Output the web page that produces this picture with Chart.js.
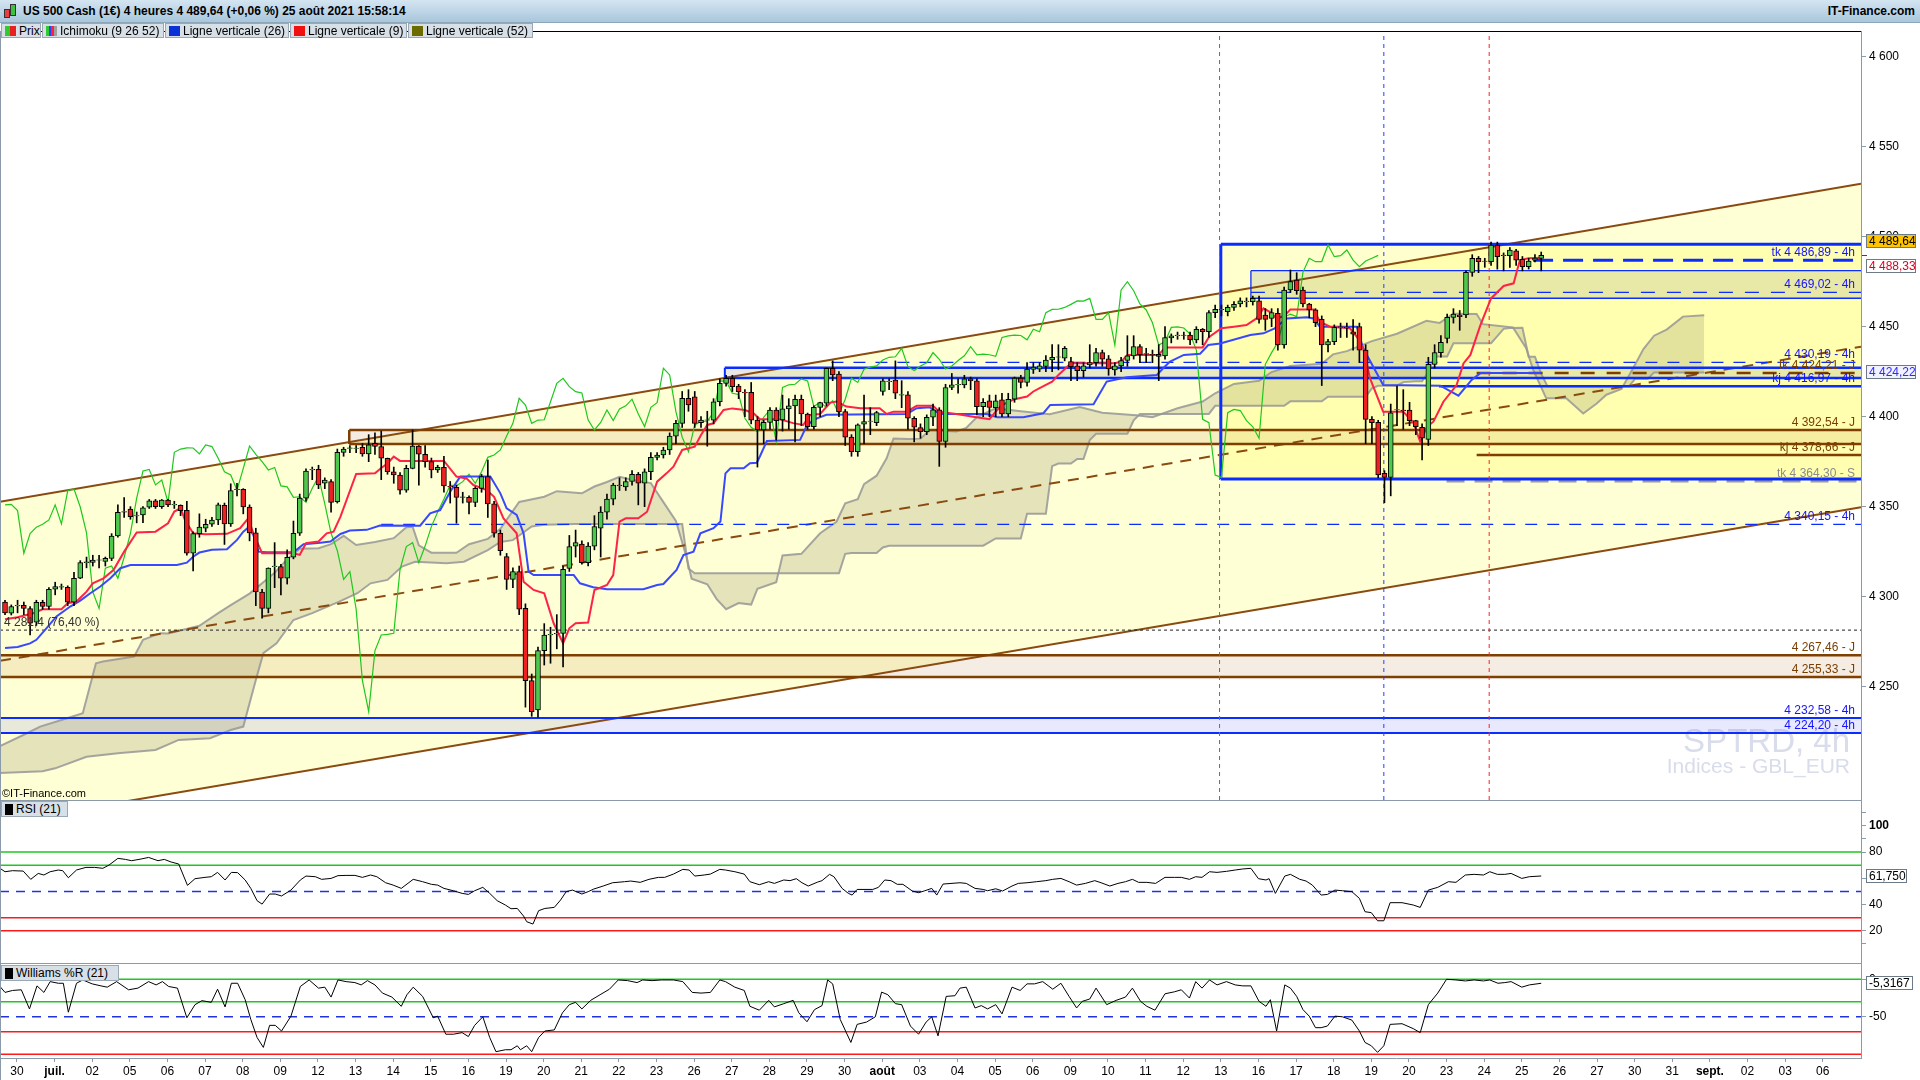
<!DOCTYPE html>
<html>
<head>
<meta charset="utf-8">
<script src="https://cdn.jsdelivr.net/npm/chart.js@4.4.1/dist/chart.umd.min.js"></script>
<style>
  body { margin: 0; width: 1920px; height: 1080px; overflow: hidden; background: #fff; font-family: "Liberation Sans", Arial, sans-serif; }
  canvas { position: absolute; left: 0; }
  #title { position: absolute; left: 0; top: 0; width: 1920px; height: 22px; background: linear-gradient(#d4e5f2, #a8c6dc); border-bottom: 1px solid #8ea6ba; z-index: 5; }
  #title .t { position: absolute; left: 23px; top: 4px; font-size: 12px; font-weight: bold; color: #000; }
  #title .r { position: absolute; right: 5px; top: 4px; font-size: 12px; font-weight: bold; color: #000; }
  .ico { position: absolute; width: 4px; border: 1px solid #333; }
  .lg { position: absolute; top: 23px; height: 15px; background: #d7dfe7; border: 1px solid #9aa8b5; font-size: 12px; line-height: 15px; color: #000; z-index: 5; box-sizing: border-box; padding-left: 17px; white-space: nowrap; }
  .lg i { position: absolute; left: 3px; top: 2px; width: 11px; height: 10px; }
  .sep { position: absolute; left: 0; height: 1px; background: #8a9aaa; z-index: 4; }
  .pl { position: absolute; left: 1px; height: 16px; background: #d7dfe7; border: 1px solid #9aa8b5; font-size: 12px; line-height: 15px; padding-left: 14px; padding-right: 3px; z-index: 5; box-sizing: border-box; }
  .pl i { position: absolute; left: 3px; top: 2px; width: 8px; height: 11px; background: #000; }
</style>
</head>
<body>
<div id="title">
  <div class="ico" style="left:4px;top:9px;height:7px;background:#e84040"></div>
  <div class="ico" style="left:10px;top:4px;height:10px;background:#40c040"></div>
  <div class="t">US 500 Cash (1€) 4 heures 4 489,64 (+0,06 %) 25 août 2021 15:58:14</div>
  <div class="r">IT-Finance.com</div>
</div>
<div class="sep" style="top:31px;width:1861px;background:#000"></div>
<div class="lg" style="left:1px;width:40px"><i style="background:linear-gradient(90deg,#2ecc2e 50%,#e82020 50%)"></i>Prix</div>
<div class="lg" style="left:42px;width:122px"><i style="background:linear-gradient(90deg,#2ecc2e 25%,#3040ff 25%,#3040ff 50%,#ff2040 50%,#ff2040 75%,#a0a0a0 75%)"></i>Ichimoku (9 26 52)</div>
<div class="lg" style="left:165px;width:124px"><i style="background:#0a30d8"></i>Ligne verticale (26)</div>
<div class="lg" style="left:290px;width:117px"><i style="background:#f01010"></i>Ligne verticale (9)</div>
<div class="lg" style="left:408px;width:125px"><i style="background:#6b6b00"></i>Ligne verticale (52)</div>
<div class="sep" style="top:0;left:0;width:1px;height:1058px;top:31px"></div>

<canvas id="main" width="1920" height="769" style="top:31px"></canvas>
<div class="sep" style="top:800px;width:1861px"></div>
<canvas id="rsi" width="1920" height="163" style="top:800px"></canvas>
<div class="pl" style="top:801px;width:67px"><i></i>RSI (21)</div>
<div class="sep" style="top:963px;width:1861px"></div>
<canvas id="will" width="1920" height="117" style="top:963px"></canvas>
<div class="pl" style="top:965px;width:118px"><i></i>Williams %R (21)</div>

<script>
// ---------- data ----------
// x is the 4-hour bar number (6 bars per trading day, bar 0 = 30 juin first bar)
const X_MIN = -0.8, X_MAX = 296;

const dayLabels = ['30','juil.','02','05','06','07','08','09','12','13','14','15','16','19','20','21','22','23','26','27','28','29','30','août','03','04','05','06','09','10','11','12','13','16','17','18','19','20','23','24','25','26','27','30','31','sept.','02','03','06'];
const monthLabels = ['juil.', 'août', 'sept.'];

const candleOpen = [4297,4290.8,4294.8,4295.2,4293.4,4285.8,4296.9,4294.5,4304.1,4305.2,
4305.2,4296.9,4310.2,4318.9,4319,4320.2,4319.5,4321.3,4333.7,4347,
4348.7,4344.8,4345.4,4349.7,4353.2,4350,4353.7,4351,4350.8,4348,
4324.1,4335,4338,4340.2,4342.6,4350.8,4340.4,4359.5,4359.6,4349.8,
4335.4,4302.6,4293.4,4316.7,4316.7,4310.2,4321.9,4335.2,4354.7,4370.4,
4370.8,4363,4363.9,4352.8,4380.2,4382.4,4382.4,4383,4379.3,4385.2,
4383.4,4376.8,4369.4,4367.6,4359.2,4371.3,4383.7,4379.1,4375,4370.4,
4371.8,4361.3,4360.7,4355.2,4355.2,4352.4,4360.2,4366.7,4351.5,4335.2,
4322.2,4309.6,4313.9,4293.5,4253.3,4237,4270,4278.7,4279.3,4279.6,
4315.7,4328,4329.2,4318.9,4328.1,4338,4347,4354.2,4362,4361,
4364,4368,4363,4369.4,4377.4,4378.7,4381.5,4389.2,4396.3,4410.2,
4411,4396.6,4398,4398,4408.3,4418.5,4421.3,4417,4413.5,4413.5,
4398.1,4392.6,4396.8,4403.7,4398.2,4404.3,4406,4409.7,4401.4,4394.5,
4405.2,4407.5,4426.9,4423.6,4402.8,4388.6,4380.6,4395.9,4397.3,4396.7,
4414,4419.5,4420.4,4412,4412.1,4399.1,4394,4391.7,4399.7,4403.8,
4386.2,4416.2,4417.7,4417.7,4421,4419.9,4405.6,4408.8,4405,4409.3,
4401.5,4409.7,4421.4,4419,4426.3,4426.4,4427.9,4431.5,4433,4432.5,
4430.6,4428.2,4425.6,4428.8,4430,4435.6,4432.1,4426,4428.2,4431.2,
4433.8,4438.9,4435,4434.7,4434.6,4433.7,4443.7,4445,4445.4,4445.4,
4442.7,4448.5,4447.2,4457.8,4459.4,4458.3,4460.7,4462.6,4463.9,4463.9,
4464.3,4456.5,4454.6,4457.4,4439.8,4470.4,4475.9,4470.4,4462.6,4459.3,
4454.1,4439.8,4441.7,4449.6,4449.6,4447.2,4450,4437,4398.5,4396.8,
4368.5,4366.3,4403.7,4403.7,4403.7,4397.8,4394.1,4387.4,4429.1,4435.6,
4443.5,4455.2,4456.5,4456.5,4480.2,4488,4486.5,4486.1,4495.4,4489.8,
4489.4,4492.2,4487.4,4483.3,4487,4488];

const candleHigh = [4298,4295.4,4298,4297,4294.5,4298,4298,4305,4308,4307,
4306,4313.5,4320,4322,4323,4323,4322,4335,4351,4355,
4350,4347,4350,4354,4354,4354,4354,4353,4351,4353,
4336,4346,4343,4344,4352,4352,4362.7,4363,4360,4351,
4338,4304,4316,4330,4318,4326,4342,4357,4371,4372,
4373,4366,4365,4382,4383,4384,4384,4385,4390,4391,
4392,4377,4372,4369,4373,4392.6,4384,4384,4377,4373,
4378,4364,4362,4358,4356,4361,4368,4375.9,4353,4337,
4324,4316,4317,4296,4257,4272,4285,4283,4290,4317,
4334,4337,4331,4330,4345,4350,4357,4363,4366,4366,
4370,4369,4371,4380,4380,4383,4391,4398,4414,4415,
4414,4400,4403,4410,4421,4423,4423,4418,4415,4419,
4400,4398,4405,4405,4412,4410,4412,4412,4402,4406,
4408,4427,4431,4425,4404,4390,4396,4412,4405,4403,
4421,4421,4431,4420,4414,4400,4396,4401,4407,4405,
4418,4424,4421,4423,4422,4421,4410,4412,4412,4413,
4413,4422,4423,4430,4430,4430,4434,4440,4440,4439,
4433,4430,4430,4440,4438,4437,4434,4430,4433,4445,
4445,4440,4438,4437,4440,4450,4446,4447,4447,4447,
4450,4449,4459,4462,4462,4462,4464,4466,4466,4467,
4467,4460,4460,4460,4472,4481.5,4480,4472,4463,4460,
4456,4443,4451,4452,4452,4454,4452,4440,4400,4398,
4370,4407,4417,4415,4408,4398,4396,4433,4440,4445,
4457,4460,4459,4481,4490,4489,4488,4497,4497,4491,
4494,4493,4489,4488,4490,4491.5];

const candleLow = [4290,4289.8,4291,4290,4278.7,4284,4293,4293,4301,4304,
4295,4295,4310,4316,4317,4316,4317,4320,4333,4344,
4343,4341,4341.1,4349,4349,4349,4350,4349,4345,4323,
4314.3,4333,4336,4339,4340,4329,4339,4356,4346,4331,
4295,4288,4291,4305,4301,4307,4321,4334,4353,4365,
4360,4360,4347,4352,4378,4380,4380,4378,4375,4379,
4365,4368,4363,4357,4358,4371,4362,4372,4366,4369,
4358,4352,4340.8,4352,4346,4350,4358,4344,4333,4323,
4304,4305,4290,4238.6,4233.5,4233,4262,4263,4271,4261,
4314,4322,4318,4317,4326,4322,4343,4351,4359,4359,
4362,4351,4350,4365,4376,4377,4379,4385,4394,4403,
4394,4394,4383.6,4396,4406,4417,4414,4410,4400,4396,
4372,4385,4393,4387,4392,4393,4386,4395,4393,4393,
4400,4406,4420,4400,4384,4378,4378,4385,4390,4395,
4412,4415,4410,4405,4393,4386,4388,4390,4395,4372.4,
4383,4415,4413,4416,4415,4401,4400,4400,4400,4400,
4400,4408,4416,4417,4424,4425,4425,4425,4426,4431,
4420,4420,4422,4427,4428,4428,4423,4423,4425,4428,
4432,4430,4430,4430,4420,4432,4441,4443,4443,4440,
4441,4440,4444,4455,4456,4456,4459,4461,4461,4462,
4452,4448,4450,4437,4438,4469,4468,4461,4455,4450,
4417.3,4436,4440,4444,4444,4437,4430,4385,4385,4366,
4352.2,4356,4395,4393,4395,4390,4376,4384,4427,4433,
4441,4452,4448,4455,4478,4480,4483,4484,4482,4481,
4483,4484,4481,4482,4486,4481];

const candleClose = [4291,4294.5,4295.2,4293.4,4285.2,4296.9,4294.5,4304.1,4305.6,4305.6,
4296.9,4310.2,4318.9,4319.3,4320.3,4320.5,4321.3,4333.7,4346.9,4347.3,
4344.5,4345.1,4349.3,4353.2,4350,4353.7,4351,4351.3,4347.8,4324.1,
4335,4338.6,4340.2,4342.6,4351,4340.4,4358.9,4359.8,4349.8,4335.4,
4302.6,4293.4,4315.8,4317,4310.2,4321.9,4335.2,4354.7,4369.8,4370.7,
4362.1,4364.8,4352.3,4380.2,4382,4382.7,4382.6,4379.3,4384.3,4383.4,
4376.9,4369.4,4367.6,4359.2,4371.3,4383.7,4379.1,4375,4370.4,4371.8,
4361.5,4361,4355.2,4355.5,4352.4,4360.2,4366.7,4351.5,4335.2,4325.5,
4309.6,4313.9,4293,4253.3,4236.1,4270,4278.7,4279,4279.6,4315.2,
4327.8,4330,4318.9,4328.1,4338.9,4347,4354.2,4362,4361.6,4363.9,
4368,4363,4369.4,4377.4,4378.7,4381.5,4389.2,4396.3,4410.2,4406.5,
4396.3,4398.1,4398.3,4408.3,4418.5,4421.3,4416.7,4413.9,4413.2,4398.1,
4392.6,4396.8,4403.7,4397.8,4404.3,4406,4409.7,4401.5,4394.5,4405.2,
4407.8,4426.9,4423.2,4402.8,4388.6,4380.6,4395.4,4397.3,4397.6,4402.3,
4419.9,4419.8,4413,4412.3,4399.1,4394.1,4391.7,4399.7,4403.8,4386.2,
4416.2,4417.7,4418,4421,4419.9,4405.6,4408,4405.1,4408.8,4401.5,
4409.7,4421.4,4419,4426.4,4427.5,4428.2,4431.5,4433,4433.3,4438,
4427.8,4425.6,4428.2,4430,4435.6,4431.9,4426.5,4428.2,4431.2,4433.8,
4438.9,4434.3,4434.7,4434.4,4433.5,4444,4444.9,4445.3,4445.1,4442.7,
4448.6,4447.2,4457.8,4459.6,4459.7,4460.7,4462.4,4464.3,4464.2,4465.7,
4454.1,4454.1,4457.8,4439.8,4470.4,4475,4470,4462.6,4459.3,4452.2,
4439.8,4441.7,4449.6,4449.9,4449.3,4445.9,4437,4398.5,4396.7,4367.6,
4366.3,4402.2,4404,4403.4,4397.8,4394.4,4388,4429.1,4435.6,4441.3,
4455.2,4457,4455.6,4480.2,4488,4486.1,4486.2,4495.4,4488.9,4489.5,
4492.6,4487,4483.3,4486.5,4488,4489.64];

// Ichimoku lines, vertices [bar, price]
const tenkanPts = [[0,4287.4],[2,4288.5],[4.5,4290.8],[6,4293],[9,4293],[10,4296.3],[11.4,4297.3],[13,4302.8],[14,4307.4],[15.7,4310.2],[17.3,4314.8],[19,4325],[21,4335.6],[24,4336.1],[26,4340.8],[27,4347.3],[28,4349.1],[28.7,4342.6],[30,4335.2],[32,4334.7],[35.4,4334.9],[37.5,4338],[38.8,4343.5],[39.6,4335.2],[41,4324.1],[46,4324.1],[47,4323.2],[48,4329.7],[50,4330.6],[51.3,4335.2],[52.4,4336.1],[53.5,4344.5],[56,4368.2],[59,4368.5],[60,4371.5],[61,4374],[62,4377.8],[63,4375.4],[70,4375.4],[72,4366.7],[73.6,4365.7],[74.7,4362],[76.8,4359.2],[78,4355.5],[79.5,4343.5],[81.6,4335.2],[82.7,4308.3],[84.3,4303.7],[86,4301.8],[87.5,4285.2],[89,4274.1],[90,4282.4],[91,4285.2],[93,4285.6],[94,4303.7],[96,4306.5],[97,4312],[98,4341.7],[99,4343.5],[101,4343.5],[102.4,4347.2],[104,4363.9],[105.5,4368.5],[106.6,4372.2],[108,4381.5],[110,4383.3],[111,4389.8],[112,4395.4],[113,4396.3],[114.6,4403.7],[116,4404.6],[118,4403.7],[119.4,4401.8],[120.4,4398.6],[123.6,4398.6],[125.7,4396.4],[127.3,4395.4],[128.4,4401],[130,4401.5],[131.6,4407.8],[132.6,4408.4],[134.2,4405.6],[136.4,4404.7],[139.5,4404.7],[140.6,4401.5],[141.7,4402.8],[143.8,4402.8],[145.4,4406],[148,4406],[149,4402.8],[152,4401.3],[154.4,4400],[157,4398.6],[158,4402.8],[159,4406.5],[161,4409.7],[163,4411.2],[164,4414],[165,4415.8],[167,4419.5],[168,4423.2],[170,4429.7],[177,4429.7],[178,4430.6],[179,4434.3],[184,4434.3],[185,4438.5],[191,4438.5],[192,4444.1],[194,4449.1],[196,4450],[198,4450.9],[199.6,4454.6],[200.7,4460.2],[201.7,4458.3],[202.8,4454.6],[204,4455.9],[205,4459.6],[208.7,4459.6],[209.7,4452.8],[211.3,4450],[214.5,4449.1],[215.6,4444.4],[216.6,4438],[217.7,4421.3],[219.8,4402.8],[223,4402.8],[224.6,4396.7],[225.7,4386.1],[226.8,4394.4],[227.8,4397.2],[229.4,4408.3],[231.5,4417.6],[232.6,4429.6],[233.7,4434.3],[235.3,4450.9],[237,4465.7],[239,4472.6],[240.6,4474.1],[241.6,4487],[243,4488],[245,4488.33]];

const kijunPts = [[0,4271.5],[2,4272],[4,4274],[5,4276],[6.6,4282.4],[8.2,4289],[10.4,4294.5],[12,4297.8],[13.6,4301.9],[15.2,4305.6],[16.8,4310.2],[18.4,4315.8],[20,4317.6],[27.4,4317.6],[29,4318.9],[30,4322.2],[31,4324.5],[33,4326],[35.4,4326.3],[37,4331.5],[38,4336.1],[38.8,4338.4],[39.6,4334.3],[40.4,4325],[41.8,4324.7],[46,4324.7],[47.6,4329.1],[50.3,4330],[51.9,4330.6],[53.5,4334.8],[55,4336.7],[57.7,4337.1],[59.8,4339.5],[66.2,4339.4],[67.8,4346.3],[69.4,4348.1],[71,4358.3],[72.6,4366.7],[77.4,4366.7],[79,4357.4],[80,4349.1],[81.6,4345.4],[82.7,4335.2],[83.5,4313.9],[84.3,4312],[90.7,4312],[91.7,4307.4],[93.8,4305.2],[96,4304.1],[101.8,4304.1],[104,4306.5],[105,4307],[107.1,4314.8],[108.2,4323.1],[109.8,4325],[110.9,4335.2],[113,4338],[114.1,4341.7],[114.9,4368.5],[115.7,4371.3],[117.8,4371.3],[118.8,4374.1],[119.9,4374.4],[120.4,4378],[121.5,4386.5],[126.8,4387.1],[127.8,4394.5],[128.9,4398.2],[131,4401],[143.8,4401.5],[145.4,4404.7],[147.5,4405.2],[149.1,4401.5],[156.6,4401.5],[158.2,4399.7],[162.4,4399.7],[165.6,4401.9],[166.7,4406.5],[173.6,4406.9],[175.7,4419.5],[178.9,4421.9],[183.7,4423.2],[184.7,4426.9],[185.8,4430.6],[188,4434.3],[190.6,4435],[191.9,4439.8],[193.8,4440.7],[198.6,4445.4],[200.7,4446.3],[202.5,4449.1],[204.4,4454.6],[207.6,4455.2],[208.7,4454.6],[209.7,4450],[215.6,4450],[216.6,4438],[219.8,4417.6],[228.9,4417.2],[231.8,4411.7],[233.9,4420.4],[235.3,4424.2],[245,4424.22]];

const spanAPts = [[-0.8,4217],[3.5,4224.1],[5.6,4227.8],[9.9,4232.4],[12.4,4235.2],[14.5,4263],[15.6,4263.9],[20.6,4266.7],[22,4276],[24.8,4279.7],[26,4279.5],[31,4283.8],[34,4290.8],[36,4295.3],[39,4301.7],[41,4307.4],[43,4313.2],[45,4320.8],[47,4326.6],[50,4326.9],[52,4329.2],[54,4333.8],[56,4328.7],[59,4330.4],[62,4332.5],[64,4338.6],[65,4338.9],[66,4328.5],[68,4324.4],[72,4324.4],[74,4329.1],[77,4332.1],[79,4337.7],[82,4352.6],[86,4355.5],[88,4358.6],[92,4357.4],[94,4361.2],[96,4363.7],[98,4366.6],[100.7,4364.4],[103,4363.1],[105,4352.5],[107,4342],[108.7,4321.8],[109.5,4310],[112,4306.9],[113.5,4298.6],[115,4293],[117,4296.4],[119,4295.6],[120,4304.4],[123,4308],[124,4322.9],[127,4323.8],[130,4335.2],[132.6,4341.6],[134,4351.8],[136,4354.2],[137,4362.5],[139,4367.2],[140.6,4376.9],[141.7,4387.9],[144,4387.6],[146,4387.8],[147.5,4392.6],[151.7,4391.7],[153.3,4393.7],[155,4399.8],[158,4404.6],[162,4403],[166.6,4401.4],[171.4,4405.4],[175,4402.2],[180.4,4400.8],[183,4399.7],[187,4404.7],[191,4408.4],[193,4413],[196,4418.2],[200,4419.9],[202,4424.8],[205,4428.1],[210,4429.4],[211.8,4434.6],[214,4436.4],[218,4442],[222,4446.1],[226.7,4453.3],[228.8,4452.1],[231,4457.2],[234.7,4457.1],[235.7,4451.4],[240.5,4449.6],[242.6,4438],[243.7,4426.2],[245.8,4410.2],[249,4410.2],[251.7,4401.8],[253.8,4407.2],[255.4,4412.2],[257.8,4415.4],[259.7,4427.2],[261.3,4437.6],[263,4445],[265,4448.4],[267.6,4455.6],[271,4456.3]];

const spanBPts = [[-0.8,4202],[6,4203],[8,4204.6],[13,4211],[18,4213],[24,4214.8],[27.7,4220.4],[32.7,4221.3],[36,4225.9],[38,4227.8],[40,4253.7],[41.2,4268.6],[43.3,4274.1],[46,4287],[49,4290.8],[53.3,4297.2],[56.2,4301.9],[58.3,4307.4],[61,4309.3],[63.3,4316.7],[65.4,4319.4],[70.4,4318.5],[73.2,4319.4],[77,4325.9],[79,4330.4],[81,4331.4],[82,4334],[83,4336.5],[84,4339],[86,4340],[91,4340.3],[108,4340.3],[109,4315.6],[110,4313],[133,4313],[134,4323.8],[135,4324.3],[139,4324.3],[140,4327.3],[141,4328.3],[156,4328.3],[157,4330.3],[158,4332.3],[162,4332.3],[163,4346],[166,4346],[167,4372.5],[168,4374],[170,4374],[171,4376.5],[172,4376.5],[173,4387],[174,4390.5],[179,4390.5],[180,4398],[181,4401.5],[192,4401.5],[193,4406],[204,4406],[205,4408.5],[210,4408.5],[211,4411.1],[217,4411.1],[218,4415.7],[219,4417.2],[222,4417.2],[223,4419.2],[225,4419.7],[226,4419.7],[227,4425],[228,4433.5],[230,4433.5],[231,4440.8],[237,4440.8],[238,4444.8],[239,4448.8],[240,4449.3],[242,4449.4],[243,4433.3],[244,4433.3],[245,4423.8],[246,4416.9],[259,4416.9],[260,4421.1],[262,4421.1],[263,4424.6],[271,4424.6]];

const chikouShift = 26;

// regression channel, price at the left and right edge of the plot
const channelUpper = [4352.7, 4529.5];
const channelMiddle = [4264.3, 4438.9];
const channelLower = [4174.4, 4349.7];

// rectangles and bands: [low, high, first bar]
const rectWeekly = [4365.3, 4495.8, 193.9];
const rect4h = [4465.8, 4481.1, 198.7];
const rectMidBlue = [4421.5, 4427.2, 114.8];
const bandBrownTop = [4384.8, 4392.54, 54.9];
const bandBrownLow = [4255.33, 4267.46];
const bandBlueLow = [4224.20, 4232.58];

// single levels: [price, first bar]
const tk4h = [4486.89, 243.7];
const mid4h = [4469.02, 198.7];
const lvl4430 = [4430.19, 131.8];
const tkDaily = [4424.21, 234.7];
const kj4h = [4416.97, 228.7];
const kjDaily = [4378.66, 234.7];
const tkWeekly = [4364.30, 229.9];
const lvl4340 = [4340.15, 60];
const fibo = [4281.4];

const verticalBars = [193.7, 219.9, 236.7]; // Ligne verticale (52), (26), (9)

const levelTexts = [
  ['tk 4 486,89 - 4h', 4486.89, 'b'], ['4 469,02 - 4h', 4469.02, 'b'], ['4 430,19 - 4h', 4430.19, 'b'],
  ['tk 4 424,21 - J', 4424.21, 'r'], ['kj 4 416,97 - 4h', 4416.97, 'b'], ['4 392,54 - J', 4392.54, 'r'],
  ['kj 4 378,66 - J', 4378.66, 'r'], ['tk 4 364,30 - S', 4364.30, 'g'], ['4 340,15 - 4h', 4340.15, 'b'],
  ['4 267,46 - J', 4267.46, 'r'], ['4 255,33 - J', 4255.33, 'r'], ['4 232,58 - 4h', 4232.58, 'b'],
  ['4 224,20 - 4h', 4224.20, 'b']
];

const lastPrice = 4489.64, lastTenkan = 4488.33, lastKijun = 4424.22;

// RSI (21) and Williams %R (21), vertices [bar, value]
const rsiPts = [[-0.8,67.6],[0,65],[1.2,65.8],[2.9,65.5],[4.1,59.2],[5.3,63.7],[6.2,62.5],[7.2,65],[8.5,66.3],[9.2,65.8],[10.1,60.4],[11.4,66.3],[12.9,68.3],[14.3,68.3],[15.6,67.6],[16.6,70.1],[18,75.2],[19.2,74.4],[20.2,73.4],[21.7,74.7],[22.9,75.9],[24.4,73.4],[25.4,74.4],[26.5,72.4],[27.7,70.9],[29.1,54.6],[30.3,59.7],[31.9,60.7],[32.9,61.2],[33.9,64.5],[35.1,58.7],[36.1,64.5],[37.1,64.3],[38.3,58.7],[39.2,52.3],[40.2,42.9],[41,40.3],[42.2,48],[43.1,48],[44.1,46.5],[45.6,51],[47.1,58.7],[48,61.7],[49.5,61.2],[50.5,59.2],[52,59.9],[53.1,62],[54.4,62.2],[55.8,62.2],[57,60.7],[58.3,62.5],[59.3,61.2],[60.7,56.6],[61.9,54.8],[63.2,52.3],[65.1,59.2],[66.6,57.4],[68,55.4],[69,54.8],[70,52.3],[71.5,50.5],[72.9,48.5],[73.9,47.7],[74.9,50.5],[76.2,53.1],[77.3,48.5],[78.5,42.9],[79.8,39.6],[80.7,36.8],[81.7,37],[82.7,31.2],[83.2,26.9],[84.2,25.1],[85.1,35.3],[86.1,37],[87.6,37.8],[88.6,43.4],[89.5,49.8],[90.5,51],[92,48],[93,49.8],[93.9,51.8],[95.4,54.1],[96.9,56.6],[98.8,57.4],[99.8,57.9],[101.3,56.9],[102.7,59.2],[104.2,60.7],[105.2,60.7],[106.6,63.2],[108.1,66.8],[109.1,66.3],[110,61.7],[111.5,62.5],[112.5,63.2],[114,66.8],[114.9,66.3],[116.4,65],[117.9,63.2],[118.8,57.4],[120.3,55.1],[121.8,57.4],[122.7,56.1],[124.2,58.7],[125.2,58.2],[126.2,59.7],[127.1,56.6],[128.1,54.1],[129.6,57.1],[130.3,58.2],[131.5,63],[132.2,61.2],[133.5,52.3],[134.5,48.5],[135.1,47.2],[135.9,51.5],[138.4,51.5],[139.3,53.1],[140.3,58.7],[141.3,58.2],[142.3,55.4],[143.2,55.4],[144.7,50.3],[145.7,49],[146.7,50.5],[147.8,52.3],[148.6,47.2],[149.6,55.6],[152.3,56.6],[153.3,56.1],[154.7,52.3],[156,51.5],[156.7,50.5],[158,52],[159.1,50.3],[160.6,54.1],[161.6,56.1],[163,56.6],[164.5,57.4],[166,58.2],[167.1,59.2],[168.4,59.9],[169.7,57.4],[170.9,54.8],[172.3,56.1],[173.8,58.2],[174.8,56.6],[176.2,54.1],[177.5,56.1],[178.7,57.4],[179.8,59.2],[180.8,56.9],[182.1,56.9],[183.5,56.1],[185,60.7],[186.5,60.7],[187.6,60.7],[188.9,59.2],[189.9,61.2],[190.9,60.7],[192.1,65],[193.3,64.5],[194.8,65.3],[196.2,66.3],[197.4,67.1],[198.7,67.6],[199.9,59.7],[201.1,58.7],[201.6,59.7],[202.6,48.5],[204.1,61.7],[205,63],[206.5,59.2],[207.5,57.9],[208.5,54.8],[209.9,47.2],[210.9,47.7],[212.1,51],[213.3,50.5],[214.8,49.8],[216,44.7],[216.9,34.5],[217.9,33.8],[218.9,27.6],[219.9,27.6],[220.9,41.4],[222.8,41.4],[224.6,39.6],[225.7,37.8],[227,51],[228.5,53.1],[230.2,57.4],[231.4,56.9],[232.9,62.5],[234.3,63],[235.8,62.5],[236.8,65],[238,63],[239.2,63],[240.2,63.7],[241.9,59.9],[243.1,61.2],[245,61.75]];

const willPts = [[-0.8,-9.6],[0,-17.5],[1.2,-14.9],[2.6,-14],[3.9,-39.5],[5.1,-8.8],[6.2,-17.5],[7.2,-3.1],[8.5,-5.3],[9.3,-5.3],[10.1,-43.9],[11.4,-5.3],[12.4,-0.9],[13.9,-6.1],[15.3,-8.8],[16.3,-10.5],[17.8,-3.1],[19.7,-14],[21.2,-11.8],[22.9,-3.1],[24.1,-7.5],[25.1,-3.1],[26.1,-9.6],[27.5,-11.8],[29,-51.3],[30.3,-33.8],[31.4,-28.5],[32.9,-30.7],[33.9,-13.2],[35.1,-36.8],[36.1,-5.3],[37.1,-5.3],[38.3,-27.2],[39.2,-53.5],[40.2,-77.6],[41.2,-90.8],[42.2,-61.4],[43.1,-61.4],[44.1,-68.9],[45.6,-49.1],[47.1,-9.6],[48.5,-0.9],[50,-11.8],[51,-10.5],[52,-23.7],[53.1,-0.9],[54.4,-3.1],[55.8,-4.4],[56.8,-7.5],[57.8,-1.8],[59,-7.5],[60.2,-18.4],[61.7,-23.7],[63.2,-36],[64.1,-20.6],[65.1,-10.5],[66.6,-22.8],[67.6,-39.5],[68.3,-51.3],[69,-49.1],[70.3,-73.2],[71.5,-73.2],[72.9,-71.1],[73.9,-76.3],[74.9,-61.4],[76.2,-50],[77.3,-77.6],[78.3,-96.5],[79.8,-93.9],[80.7,-93.9],[81.7,-88.6],[82.2,-93.9],[83.2,-88.6],[84,-96.5],[85.1,-77.6],[86.1,-68.9],[87.6,-67.5],[88.9,-44.7],[90,-33.8],[91,-30.7],[92,-39.5],[93.4,-28.1],[94.9,-20.6],[96.4,-13.2],[97.8,-0.9],[99.3,-1.8],[100.8,-4.4],[101.7,-0.9],[103.2,-1.8],[104.7,-0.9],[106.6,-0.9],[108.1,-3.1],[109.6,-17.5],[111,-18.4],[112.5,-17.5],[114,-0.9],[114.9,-3.1],[116.4,-10.5],[117.9,-14.9],[118.8,-36],[120.3,-41.2],[121.8,-28.1],[122.7,-36.8],[124.2,-32.5],[125.7,-28.1],[126.6,-44.7],[127.9,-56.6],[129.1,-40.4],[130.3,-35.1],[131.2,-0.9],[132,-6.1],[133.2,-53.5],[134.9,-84.2],[135.9,-60.1],[137.4,-57],[138.8,-50],[139.8,-17.1],[140.8,-20.6],[142,-32.5],[143,-33.8],[144.4,-62.3],[145.7,-73.2],[146.9,-57],[147.8,-50],[148.8,-75.4],[150.1,-22.8],[151.5,-21.9],[152.3,-11.8],[153.3,-10.5],[154.7,-38.2],[155.7,-35.1],[156.7,-39.5],[158,-33.8],[159,-46.1],[160.6,-10.5],[161.9,-14.9],[163,-6.1],[164.2,-6.1],[165.5,-3.1],[167.1,-13.2],[168.4,-5.3],[169.7,-22.8],[170.9,-38.2],[171.8,-29.4],[173,-26.3],[174,-11.8],[175.7,-33.8],[177.2,-28.1],[178.7,-23.7],[179.8,-11.8],[181.1,-29.4],[182.1,-36],[183.4,-41.2],[185,-19.3],[186.5,-16.7],[187.6,-14],[188.9,-25],[189.9,-3.1],[190.9,-11.8],[192.1,-0.9],[193.3,-7.5],[194.8,-3.1],[196.2,-7.5],[197.4,-8.8],[198.7,-8.8],[200,-29.4],[201.1,-36],[201.8,-27.2],[202.8,-68.9],[204.1,-7.5],[205,-11.8],[206,-22.8],[207,-40.4],[208,-49.1],[209,-64.5],[209.9,-64.5],[210.9,-62.3],[212.1,-49.1],[213.3,-50],[214.8,-54.4],[216,-68.9],[216.9,-84.2],[217.9,-88.6],[218.9,-97.4],[219.9,-88.6],[220.9,-60.1],[222.8,-59.2],[224.6,-65.8],[225.7,-71.1],[227,-33.8],[228.5,-18.4],[229.9,0],[231.4,-0.9],[232.9,-2.2],[234.3,-0.9],[235.8,-2.2],[236.8,-0.9],[238.1,-5.3],[239.2,-4.4],[240.2,-3.1],[241.9,-10.5],[243.1,-7.5],[245,-5.3167]];

const rsiLevels = [80, 70, 50, 30, 20];
const willLevels = [0, -30, -50, -70, -100];

// ---------- helpers ----------
const FONT = '"Liberation Sans", Arial, sans-serif';
Chart.defaults.font.family = FONT;
Chart.defaults.font.size = 12;
Chart.defaults.color = '#000';
Chart.defaults.animation = false;

const AXIS = '#8a9aaa';
const BLUE = '#0a2cff', BROWN = '#7f3f00', GREEN = '#1ec81e', RED = '#ff1a1a';

const pts = arr => arr.map(p => ({ x: p[0], y: p[1] }));
function seg(x0, y0, x1, y1, color, width, dash, order) {
  return { type: 'line', data: [{ x: x0, y: y0 }, { x: x1, y: y1 }], borderColor: color, borderWidth: width,
    borderDash: dash || [], pointRadius: 0, fill: false, order: order };
}
function band(lo, hi, x0, color, order) {
  return { type: 'line', data: [{ x: x0, y: hi }, { x: X_MAX, y: hi }], borderColor: 'rgba(0,0,0,0)', borderWidth: 0,
    pointRadius: 0, fill: { value: lo }, backgroundColor: color, order: order };
}
const fmtPrice = v => { const s = Math.round(v).toString(); return s.slice(0, -3) + ' ' + s.slice(-3); };
const comma = (v, d) => v.toFixed(d).replace('.', ',');

function yAxis(min, max, extra) {
  return Object.assign({
    position: 'right', min: min, max: max,
    afterFit: s => { s.width = 59; s.paddingTop = 0; s.paddingBottom = 0; },
    grid: { drawOnChartArea: false, tickLength: 5, color: AXIS },
    border: { display: true, color: AXIS },
    ticks: { padding: 3, color: '#000', font: { size: 12 } }
  }, extra);
}
const xHidden = { type: 'linear', min: X_MIN, max: X_MAX, offset: false, display: false };

function axisBox(ctx, txt, cy, w, bg, fg) {
  ctx.save();
  ctx.font = '12px ' + FONT;
  ctx.fillStyle = bg;
  ctx.fillRect(1866, Math.round(cy - 7), w, 14);
  ctx.strokeStyle = '#6c7a88';
  ctx.lineWidth = 1;
  ctx.strokeRect(1866.5, Math.round(cy - 7) + 0.5, w - 1, 13);
  ctx.fillStyle = fg;
  ctx.textAlign = 'left';
  ctx.textBaseline = 'middle';
  ctx.fillText(txt, 1869, cy + 0.5);
  ctx.restore();
}

// ---------- main price panel ----------
const ds = [];
// channel fill
const chanLowIdx = 1;
ds.push({ type: 'line', data: [{ x: X_MIN, y: channelUpper[0] }, { x: X_MAX, y: channelUpper[1] }], borderColor: 'rgba(0,0,0,0)', borderWidth: 0, pointRadius: 0,
  fill: { target: chanLowIdx, above: 'rgb(255,255,213)', below: 'rgb(255,255,213)' }, order: 100 });
ds.push({ type: 'line', data: [{ x: X_MIN, y: channelLower[0] }, { x: X_MAX, y: channelLower[1] }], borderColor: 'rgba(0,0,0,0)', borderWidth: 0, pointRadius: 0, fill: false, order: 100 });

// bands and rectangles (fills)
ds.push(band(rectWeekly[0], rectWeekly[1], rectWeekly[2], 'rgba(255,255,90,0.3)', 95));
ds.push(band(bandBrownLow[0], bandBrownLow[1], X_MIN, 'rgba(190,140,90,0.16)', 94));
ds.push(band(bandBlueLow[0], bandBlueLow[1], X_MIN, 'rgba(100,100,255,0.15)', 94));
ds.push(band(bandBrownTop[0], bandBrownTop[1], bandBrownTop[2], 'rgba(190,140,90,0.16)', 94));

// cloud
const spanBIdx = ds.length + 1;
ds.push({ type: 'line', data: pts(spanAPts), borderColor: 'rgba(150,150,150,0.85)', borderWidth: 2, pointRadius: 0,
  fill: { target: spanBIdx, above: 'rgba(150,145,110,0.26)', below: 'rgba(150,145,110,0.26)' }, order: 90 });
ds.push({ type: 'line', data: pts(spanBPts), borderColor: 'rgba(150,150,150,0.85)', borderWidth: 2, pointRadius: 0, fill: false, order: 89 });

ds.push(band(rect4h[0], rect4h[1], rect4h[2], 'rgba(150,150,140,0.22)', 88));
ds.push(band(rectMidBlue[0], rectMidBlue[1], rectMidBlue[2], 'rgba(150,150,140,0.22)', 88));

// channel strokes
ds.push(seg(X_MIN, channelUpper[0], X_MAX, channelUpper[1], '#8a4a10', 2, null, 70));
ds.push(seg(X_MIN, channelLower[0], X_MAX, channelLower[1], '#8a4a10', 2, null, 70));
ds.push(seg(X_MIN, channelMiddle[0], X_MAX, channelMiddle[1], '#8a4a10', 2, [11, 8], 70));

// level lines
ds.push(seg(X_MIN, bandBrownLow[0], X_MAX, bandBrownLow[0], BROWN, 2.5, null, 60));
ds.push(seg(X_MIN, bandBrownLow[1], X_MAX, bandBrownLow[1], BROWN, 2.5, null, 60));
ds.push(seg(X_MIN, bandBlueLow[0], X_MAX, bandBlueLow[0], BLUE, 2, null, 60));
ds.push(seg(X_MIN, bandBlueLow[1], X_MAX, bandBlueLow[1], BLUE, 2, null, 60));
ds.push(seg(bandBrownTop[2], bandBrownTop[0], X_MAX, bandBrownTop[0], BROWN, 2.5, null, 60));
ds.push(seg(bandBrownTop[2], bandBrownTop[1], X_MAX, bandBrownTop[1], BROWN, 2.5, null, 60));
ds.push(seg(bandBrownTop[2], bandBrownTop[0], bandBrownTop[2], bandBrownTop[1], BROWN, 2.5, null, 60));
ds.push(seg(X_MIN, fibo[0], X_MAX, fibo[0], '#222', 1, [3, 3], 60));
ds.push(seg(lvl4340[1], lvl4340[0], X_MAX, lvl4340[0], BLUE, 1.2, [12, 10], 60));
ds.push(seg(lvl4430[1], lvl4430[0], X_MAX, lvl4430[0], BLUE, 1.2, [12, 10], 60));
ds.push(seg(rectMidBlue[2], rectMidBlue[0], X_MAX, rectMidBlue[0], BLUE, 2.5, null, 60));
ds.push(seg(rectMidBlue[2], rectMidBlue[1], X_MAX, rectMidBlue[1], BLUE, 2.5, null, 60));
ds.push(seg(rectMidBlue[2], rectMidBlue[0], rectMidBlue[2], rectMidBlue[1], BLUE, 2, null, 60));
ds.push(seg(rect4h[2], rect4h[0], X_MAX, rect4h[0], BLUE, 1.3, null, 60));
ds.push(seg(rect4h[2], rect4h[1], X_MAX, rect4h[1], BLUE, 1.3, null, 60));
ds.push(seg(rect4h[2], rect4h[0], rect4h[2], rect4h[1], BLUE, 1.3, null, 60));
ds.push(seg(mid4h[1], mid4h[0], X_MAX, mid4h[0], BLUE, 1.3, [14, 12], 60));
ds.push(seg(kj4h[1], kj4h[0], X_MAX, kj4h[0], BLUE, 2.5, null, 60));
ds.push(seg(kjDaily[1], kjDaily[0], X_MAX, kjDaily[0], BROWN, 2.5, null, 60));
ds.push(seg(tkDaily[1], tkDaily[0], X_MAX, tkDaily[0], BROWN, 2.5, [14, 12], 60));
ds.push(seg(tkWeekly[1], tkWeekly[0], X_MAX, tkWeekly[0], '#9a9a9a', 3, [18, 10], 61));
ds.push(seg(tk4h[1], tk4h[0], X_MAX, tk4h[0], BLUE, 3, [20, 10], 60));
ds.push(seg(rectWeekly[2], rectWeekly[0], X_MAX, rectWeekly[0], BLUE, 3, null, 59));
ds.push(seg(rectWeekly[2], rectWeekly[1], X_MAX, rectWeekly[1], BLUE, 3, null, 59));
ds.push(seg(rectWeekly[2], rectWeekly[0], rectWeekly[2], rectWeekly[1], BLUE, 3, null, 59));

// vertical lines
const vColors = ['#7a7a10', '#2040ff', '#ff2020'];
verticalBars.forEach((b, i) => ds.push(seg(b, 4187, b, 4614.3, vColors[i], 1, [4, 4], 55)));

// ichimoku lines
ds.push({ type: 'line', data: candleClose.slice(chikouShift).map((c, i) => ({ x: i, y: c })), borderColor: GREEN, borderWidth: 1.2, pointRadius: 0, fill: false, order: 50 });
ds.push({ type: 'line', data: pts(kijunPts), borderColor: '#3848ff', borderWidth: 2, pointRadius: 0, fill: false, order: 49 });
ds.push({ type: 'line', data: pts(tenkanPts), borderColor: '#ff2248', borderWidth: 2, pointRadius: 0, fill: false, order: 48 });

// candles
ds.push({ type: 'bar', data: candleLow.map((l, i) => ({ x: i, y: [l, candleHigh[i]] })), backgroundColor: '#000', borderWidth: 0,
  barThickness: 1, grouped: false, order: 20 });
ds.push({ type: 'bar', data: candleOpen.map((o, i) => ({ x: i, y: [o, candleClose[i]] })),
  backgroundColor: candleOpen.map((o, i) => candleClose[i] >= o ? '#4cc84c' : '#ee2020'),
  borderColor: '#000', borderWidth: 1, borderSkipped: false, barThickness: 5, grouped: false, order: 10 });

const textColors = { b: '#1414ff', r: '#7a3e00', g: '#8c8c8c' };
const mainDeco = {
  id: 'mainDeco',
  beforeDatasetsDraw(chart) {
    const { ctx, chartArea: a } = chart;
    ctx.save();
    ctx.fillStyle = 'rgba(200,205,226,0.7)';
    ctx.textAlign = 'right';
    ctx.font = '33px ' + FONT;
    ctx.fillText('SPTRD, 4h', a.right - 11, 721);
    ctx.font = '21px ' + FONT;
    ctx.fillText('Indices - GBL_EUR', a.right - 11, 742);
    ctx.restore();
  },
  afterDatasetsDraw(chart) {
    const { ctx, chartArea: a, scales: { y } } = chart;
    ctx.save();
    ctx.font = '12px ' + FONT;
    ctx.textAlign = 'right';
    levelTexts.forEach(([t, v, k]) => { ctx.fillStyle = textColors[k]; ctx.fillText(t, a.right - 6, y.getPixelForValue(v) - 4); });
    ctx.textAlign = 'left';
    ctx.fillStyle = '#333';
    ctx.fillText('4 281,4 (76,40 %)', 4, y.getPixelForValue(fibo[0]) - 4);
    ctx.font = '11px ' + FONT;
    ctx.fillStyle = '#000';
    ctx.fillText('©IT-Finance.com', 2, a.bottom - 3);
    ctx.restore();
  },
  afterDraw(chart) {
    const { ctx, scales: { y } } = chart;
    const pLast = y.getPixelForValue(lastPrice);
    ctx.save();
    ctx.strokeStyle = '#e00000';
    ctx.beginPath(); ctx.moveTo(1862, Math.round(pLast) + 0.5); ctx.lineTo(1867, Math.round(pLast) + 0.5); ctx.stroke();
    ctx.restore();
    axisBox(ctx, '4 ' + comma(lastPrice, 2).slice(1), pLast - 14.5, 50, '#ffc400', '#000');
    axisBox(ctx, '4 ' + comma(lastTenkan, 2).slice(1), y.getPixelForValue(lastTenkan) + 8.5, 50, '#fff', '#e00020');
    axisBox(ctx, '4 ' + comma(lastKijun, 2).slice(1), y.getPixelForValue(lastKijun) - 1, 50, '#f2f2ff', '#2b2bff');
  }
};

new Chart(document.getElementById('main'), {
  type: 'bar',
  data: { datasets: ds },
  options: {
    responsive: false, devicePixelRatio: 1, animation: false,
    layout: { padding: 0 },
    plugins: { legend: { display: false }, tooltip: { enabled: false } },
    scales: {
      x: xHidden,
      y: yAxis(4187, 4614.3, {
        afterBuildTicks: s => { s.ticks = [4250, 4300, 4350, 4400, 4450, 4500, 4550, 4600].map(v => ({ value: v })); },
        ticks: { padding: 3, color: '#000', font: { size: 12 }, callback: v => fmtPrice(v) }
      })
    }
  },
  plugins: [mainDeco]
});

// ---------- RSI panel ----------
const rsiDs = rsiLevels.map(v => seg(X_MIN, v, X_MAX, v, v > 60 ? GREEN : v < 40 ? RED : '#2233dd', 1.5, v === 50 ? [9, 7] : null, 5));
rsiDs.push({ type: 'line', data: pts(rsiPts), borderColor: '#000', borderWidth: 1, pointRadius: 0, fill: false, order: 1 });
new Chart(document.getElementById('rsi'), {
  type: 'line',
  data: { datasets: rsiDs },
  options: {
    responsive: false, devicePixelRatio: 1, animation: false,
    layout: { padding: 0 },
    plugins: { legend: { display: false }, tooltip: { enabled: false } },
    scales: {
      x: xHidden,
      y: yAxis(-4.6, 119.7, {
        afterBuildTicks: s => { s.ticks = [10, 20, 40, 60, 80, 90, 100, 110].map(v => ({ value: v })); },
        ticks: { padding: 3, color: '#000',
          font: c => ({ size: 12, weight: c.tick && c.tick.value === 100 ? 'bold' : 'normal' }),
          callback: v => [20, 40, 80, 100].includes(v) ? String(v) : '' }
      })
    }
  },
  plugins: [{ id: 'rsiBox', afterDraw(chart) {
    const v = rsiPts[rsiPts.length - 1][1];
    axisBox(chart.ctx, comma(v, 3), chart.scales.y.getPixelForValue(v), 41, '#fff', '#000');
  } }]
});

// ---------- Williams %R panel ----------
const willDs = willLevels.map(v => seg(X_MIN, v, X_MAX, v, v > -50 ? GREEN : v < -50 ? RED : '#2233dd', 1.5, v === -50 ? [9, 7] : null, 5));
willDs.push({ type: 'line', data: pts(willPts), borderColor: '#000', borderWidth: 1, pointRadius: 0, fill: false, order: 1 });
new Chart(document.getElementById('will'), {
  type: 'line',
  data: { datasets: willDs },
  options: {
    responsive: false, devicePixelRatio: 1, animation: false,
    layout: { padding: 0 },
    plugins: { legend: { display: false }, tooltip: { enabled: false } },
    scales: {
      x: {
        type: 'linear', min: X_MIN, max: X_MAX, offset: false, position: 'bottom',
        afterFit: s => { s.height = 22; s.paddingLeft = 0; s.paddingRight = 0; },
        afterBuildTicks: s => { s.ticks = dayLabels.map((l, d) => ({ value: 6 * d + 1.9 })); },
        grid: { drawOnChartArea: false, tickLength: 4, color: AXIS },
        border: { display: true, color: AXIS },
        ticks: { autoSkip: false, maxRotation: 0, padding: 2, color: '#000',
          font: c => ({ size: 12, weight: monthLabels.includes(dayLabels[c.index]) ? 'bold' : 'normal' }),
          callback: (v, i) => dayLabels[i] }
      },
      y: yAxis(-104.9, 21.7, {
        afterBuildTicks: s => { s.ticks = [0, -50].map(v => ({ value: v })); },
        ticks: { padding: 3, color: '#000', font: { size: 12 }, callback: v => String(v) }
      })
    }
  },
  plugins: [{ id: 'willBox', afterDraw(chart) {
    const v = willPts[willPts.length - 1][1];
    axisBox(chart.ctx, comma(v, 4), chart.scales.y.getPixelForValue(v), 47, '#fff', '#000');
  } }]
});
</script>
</body>
</html>
